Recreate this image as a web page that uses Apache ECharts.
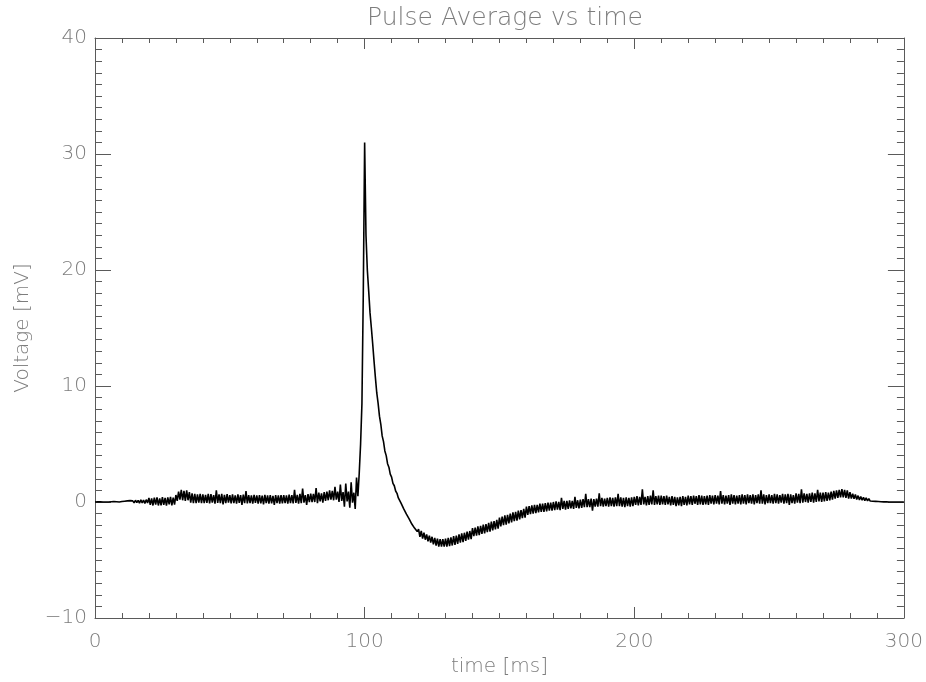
<!DOCTYPE html>
<html>
<head>
<meta charset="utf-8">
<title>Pulse Average vs time</title>
<script src="https://cdn.jsdelivr.net/npm/echarts@6/dist/echarts.min.js"></script>
<style>
  html, body { margin: 0; padding: 0; background: #fff; }
  #chart { width: 926px; height: 682px; }
</style>
</head>
<body>
<div id="chart"></div>
<script>
// sample step of the averaged pulse, ms
const DT = 0.5
// averaged voltage [mV], one value every DT ms from 0 to 300 ms
const voltage = [
  // 0 - 9.5
  0.0, 0.0, 0.01, 0.0, 0.01, 0.0, 0.0, 0.01, 0.0, 0.02, 0.0, 0.01, 0.02, 0.0, 0.03, 0.01, 0.02, 0.04, 0.0, 0.03,
  // 10
  0.04, -0.03, 0.07, -0.05, 0.1, -0.06, 0.12, -0.04, 0.1, -0.08, 0.15, -0.06, 0.14, -0.1, 0.18, -0.07, 0.16, -0.12, 0.2, -0.08,
  // 20
  0.35, -0.25, 0.3, -0.3, 0.38, -0.22, 0.4, -0.3, 0.32, -0.28, 0.42, -0.25, 0.36, -0.32, 0.4, -0.2, 0.44, -0.3, 0.38, -0.22,
  // 30
  0.6, 0.1, 0.9, 0.2, 1.05, 0.15, 0.95, 0.1, 1.0, 0.15, 0.85, -0.05, 0.75, -0.1, 0.7, -0.1, 0.65, -0.05, 0.7, -0.1,
  // 40
  0.65, -0.1, 0.62, -0.08, 0.7, -0.12, 0.68, -0.05, 0.6, -0.15, 1.0, -0.08, 0.65, -0.1, 0.7, -0.2, 0.62, -0.1, 0.68, -0.05,
  // 50
  0.6, -0.12, 0.65, -0.1, 0.58, -0.15, 0.66, -0.08, 0.6, -0.25, 0.64, -0.1, 0.95, -0.12, 0.6, -0.1, 0.58, -0.15, 0.62, -0.08,
  // 60
  0.58, -0.15, 0.6, -0.12, 0.55, -0.2, 0.62, -0.1, 0.56, -0.15, 0.6, -0.12, 0.52, -0.25, 0.6, -0.1, 0.58, -0.15, 0.6, -0.12,
  // 70
  0.6, -0.1, 0.58, -0.15, 0.64, -0.1, 0.6, -0.12, 1.05, -0.08, 0.62, -0.15, 0.7, -0.1, 1.15, -0.05, 0.6, -0.25, 0.68, -0.02,
  // 80
  0.72, -0.02, 0.7, 0.0, 1.2, -0.1, 0.8, 0.05, 0.75, -0.05, 0.85, 0.1, 0.9, 0.15, 1.0, 0.2, 0.95, 0.15, 1.3, 0.2,
  // 90 - rise of the pulse
  0.9, 0.0, 1.5, 0.1, 0.85, -0.4, 1.6, 0.05, 0.9, -0.5, 1.7, -0.05, 0.8, -0.6, 2.1, 0.5, 2.5, 5.0, 8.5, 18,
  // 100 - peak and decay
  31, 23, 20, 18.2, 16.3, 15.0, 13.6, 12.1, 10.7, 9.4, 8.5, 7.4, 6.7, 5.7, 5.2, 4.4, 4.0, 3.3, 3.0, 2.4,
  // 110
  2.15, 1.6, 1.4, 0.95, 0.75, 0.35, 0.2, -0.1, -0.25, -0.6, -0.75, -1.05, -1.15, -1.45, -1.6, -1.9, -1.95, -2.25, -2.3, -2.55,
  // 120 - undershoot
  -2.35, -3.0, -2.5, -3.15, -2.65, -3.25, -2.8, -3.4, -2.9, -3.5, -3.0, -3.65, -3.1, -3.75, -3.15, -3.85, -3.2, -3.85, -3.2, -3.85,
  // 130
  -3.15, -3.85, -3.1, -3.8, -3.05, -3.75, -2.95, -3.7, -2.9, -3.6, -2.8, -3.5, -2.7, -3.45, -2.65, -3.35, -2.55, -3.25, -2.5, -3.2,
  // 140
  -2.25, -2.95, -2.2, -2.9, -2.1, -2.85, -2.05, -2.75, -1.95, -2.7, -1.9, -2.6, -1.8, -2.55, -1.7, -2.45, -1.65, -2.35, -1.55, -2.3,
  // 150
  -1.35, -2.1, -1.25, -2.0, -1.15, -1.95, -1.1, -1.85, -1.0, -1.75, -0.9, -1.65, -0.85, -1.6, -0.75, -1.5, -0.7, -1.4, -0.6, -1.35,
  // 160
  -0.4, -1.1, -0.35, -1.05, -0.3, -1.0, -0.25, -0.95, -0.25, -0.9, -0.15, -0.85, -0.15, -0.85, -0.1, -0.8, -0.05, -0.75, -0.05, -0.75,
  // 170
  0.0, -0.7, 0.05, -0.65, 0.0, -0.7, 0.35, -0.6, 0.1, -0.65, 0.1, -0.6, 0.15, -0.55, 0.1, -0.6, 0.45, -0.5, 0.15, -0.55,
  // 180
  0.2, -0.5, 0.25, -0.45, 0.7, -0.45, 0.25, -0.45, 0.3, -0.75, 0.25, -0.4, 0.3, -0.4, 0.75, -0.35, 0.35, -0.4, 0.3, -0.35,
  // 190
  0.35, -0.4, 0.4, -0.35, 0.35, -0.4, 0.4, -0.35, 0.7, -0.35, 0.4, -0.4, 0.35, -0.45, 0.4, -0.35, 0.35, -0.4, 0.4, -0.35,
  // 200
  0.45, -0.25, 0.5, -0.3, 0.45, -0.25, 1.1, -0.2, 0.45, -0.3, 0.5, -0.25, 0.55, -0.2, 1.0, -0.25, 0.5, -0.2, 0.55, -0.25,
  // 210
  0.55, -0.2, 0.5, -0.25, 0.55, -0.2, 0.45, -0.3, 0.5, -0.25, 0.45, -0.35, 0.4, -0.3, 0.45, -0.35, 0.5, -0.25, 0.45, -0.3,
  // 220
  0.55, -0.2, 0.5, -0.25, 0.55, -0.15, 0.5, -0.25, 0.6, -0.2, 0.55, -0.25, 0.5, -0.2, 0.55, -0.25, 0.6, -0.15, 0.55, -0.2,
  // 230
  0.6, -0.15, 0.55, -0.2, 0.95, -0.15, 0.6, -0.2, 0.55, -0.15, 0.6, -0.25, 0.65, -0.15, 0.6, -0.2, 0.55, -0.15, 0.6, -0.2,
  // 240
  0.65, -0.15, 0.6, -0.2, 0.65, -0.1, 0.6, -0.15, 0.65, -0.2, 0.6, -0.1, 0.65, -0.15, 1.0, -0.15, 0.65, -0.2, 0.6, -0.1,
  // 250
  0.65, -0.1, 0.6, -0.15, 0.7, -0.1, 0.65, -0.15, 0.6, -0.05, 0.7, -0.15, 0.65, -0.1, 0.7, -0.25, 0.65, -0.1, 0.6, -0.15,
  // 260
  0.75, -0.05, 0.7, -0.1, 1.1, -0.05, 0.75, 0.0, 0.7, -0.05, 0.75, 0.0, 0.8, -0.05, 0.75, 0.0, 1.05, 0.05, 0.8, 0.0,
  // 270
  0.8, 0.05, 0.85, 0.1, 0.8, 0.15, 0.9, 0.2, 0.95, 0.3, 1.0, 0.35, 1.05, 0.4, 1.1, 0.4, 1.05, 0.35, 1.0, 0.3,
  // 280
  0.85, 0.3, 0.72, 0.28, 0.65, 0.22, 0.55, 0.18, 0.48, 0.15, 0.4, 0.12, 0.35, 0.1, 0.28, 0.08, 0.22, 0.06, 0.17, 0.05,
  // 290
  0.1, 0.04, 0.06, 0.02, 0.04, 0.01, 0.02, 0.01, 0.01, 0.0, 0.01, 0.0, 0.0, 0.0, 0.0, 0.0, 0.0, 0.0, 0.0, 0.0,
  // 300
  0.0
]
// axis ranges
const xRange = [0, 300]
const yRange = [-10, 40]

const chart = echarts.init(document.getElementById('chart'), null, { renderer: 'canvas' })

const FONT = 'DejaVu Sans'
const AXIS_COLOR = '#5a5a5a'
const TEXT_COLOR = '#7d7d7d'

// x/y pairs for the value axis
const points = voltage.map((v, i) => [i * DT, v])

function xAxisOf (pos, withLabels) {
  return {
    type: 'value',
    position: pos,
    min: xRange[0],
    max: xRange[1],
    interval: 100,
    splitLine: { show: false },
    axisLine: { show: true, onZero: false, lineStyle: { color: AXIS_COLOR, width: 1 } },
    axisTick: { show: true, inside: true, length: 11, lineStyle: { color: AXIS_COLOR } },
    minorTick: { show: true, splitNumber: 10, length: 5, lineStyle: { color: AXIS_COLOR } },
    axisLabel: {
      show: withLabels,
      margin: 14,
      color: TEXT_COLOR,
      fontFamily: FONT,
      fontWeight: 200,
      fontSize: 20
    }
  }
}

function yAxisOf (pos, withLabels) {
  return {
    type: 'value',
    position: pos,
    min: yRange[0],
    max: yRange[1],
    interval: 10,
    splitLine: { show: false },
    axisLine: { show: true, onZero: false, lineStyle: { color: AXIS_COLOR, width: 1 } },
    axisTick: { show: true, inside: true, length: 16, lineStyle: { color: AXIS_COLOR } },
    minorTick: { show: true, splitNumber: 10, length: 7, lineStyle: { color: AXIS_COLOR } },
    axisLabel: {
      show: withLabels,
      margin: 8,
      color: TEXT_COLOR,
      fontFamily: FONT,
      fontWeight: 200,
      fontSize: 20,
      formatter: v => (v < 0 ? '\u2212' + Math.abs(v) : String(v))
    }
  }
}

const bottomX = xAxisOf('bottom', true)
bottomX.name = 'time [ms]'
bottomX.nameLocation = 'middle'
bottomX.nameGap = 34
bottomX.nameTextStyle = { color: TEXT_COLOR, fontFamily: FONT, fontWeight: 200, fontSize: 20 }

const leftY = yAxisOf('left', true)
leftY.name = 'Voltage [mV]'
leftY.nameLocation = 'middle'
leftY.nameRotate = 90
leftY.nameGap = 62
leftY.nameTextStyle = { color: TEXT_COLOR, fontFamily: FONT, fontWeight: 200, fontSize: 20 }

const option = {
  backgroundColor: '#ffffff',
  animation: false,
  title: {
    text: 'Pulse Average vs time',
    left: 500,
    top: 1,
    textAlign: 'center',
    textStyle: { color: TEXT_COLOR, fontFamily: FONT, fontWeight: 200, fontSize: 25 }
  },
  grid: {
    left: 95,
    right: 22,
    top: 38,
    bottom: 64,
    containLabel: false
  },
  xAxis: [bottomX, xAxisOf('top', false)],
  yAxis: [leftY, yAxisOf('right', false)],
  series: [{
    type: 'line',
    xAxisIndex: 0,
    yAxisIndex: 0,
    data: points,
    showSymbol: false,
    symbol: 'none',
    sampling: null,
    // a little wider than a hairline so the noisy trace reads as a dark band
    lineStyle: { color: '#000000', width: 1.6 },
    z: 1
  }]
}

chart.setOption(option)
</script>
</body>
</html>
